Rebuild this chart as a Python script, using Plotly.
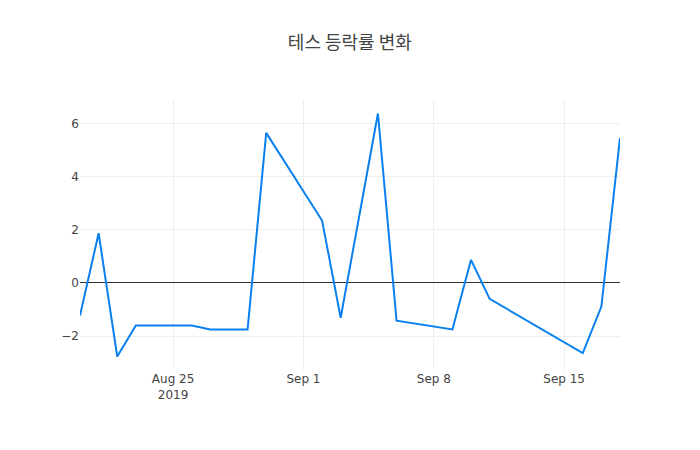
import plotly.graph_objects as go

# 테스 daily change rate (%), trading days only
dates = [
    "2019-08-20", "2019-08-21", "2019-08-22", "2019-08-23",
    "2019-08-26", "2019-08-27", "2019-08-28", "2019-08-29", "2019-08-30",
    "2019-09-02", "2019-09-03", "2019-09-04", "2019-09-05", "2019-09-06",
    "2019-09-09", "2019-09-10", "2019-09-11",
    "2019-09-16", "2019-09-17", "2019-09-18",
]
change_rate = [
    -1.23, 1.87, -2.77, -1.60,
    -1.60, -1.75, -1.75, -1.75, 5.65,
    2.35, -1.31, 2.53, 6.38, -1.42,
    -1.75, 0.87, -0.60,
    -2.64, -0.89, 5.46,
]

title_text = "테스 등락률 변화"

fig = go.Figure(
    go.Scatter(
        x=dates,
        y=change_rate,
        mode="lines",
        line={"color": "rgb(10,128,238)", "width": 2},
    )
)

# the page body adds an 8px margin, so the figure is shrunk and shifted to fit
fig.update_layout(
    title={
        "text": title_text,
        "x": 0.494,
        "xanchor": "center",
        "y": 0.921,
        "yanchor": "middle",
        "font": {"family": "Noto Sans CJK KR, sans-serif", "size": 18},
    },
    width=692,
    height=442,
    margin={"l": 72, "r": 80, "t": 92, "b": 80},
    paper_bgcolor="white",
    plot_bgcolor="white",
    font={"family": "DejaVu Sans, Noto Sans CJK KR, sans-serif", "color": "#444", "size": 12},
    showlegend=False,
)
fig.update_xaxes(showgrid=True, gridcolor="#eeeeee", zeroline=False)
fig.update_yaxes(
    showgrid=True,
    gridcolor="#eeeeee",
    zeroline=True,
    zerolinecolor="#333333",
    zerolinewidth=1,
)

fig.write_html("out.html")
